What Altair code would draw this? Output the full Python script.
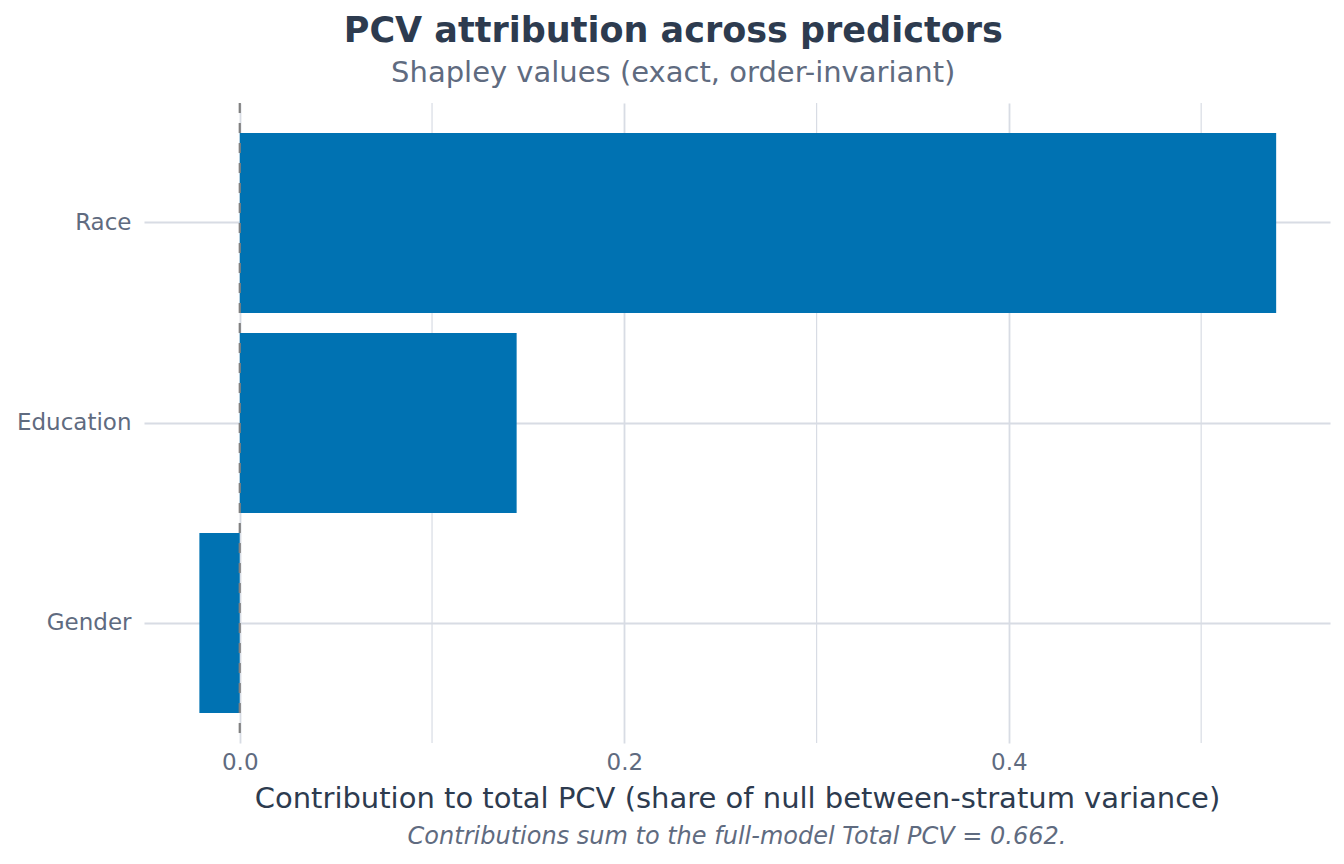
import altair as alt
import pandas as pd

predictors = ["Race", "Education", "Gender"]
shapley = [0.539, 0.144, -0.021]
total_pcv = 0.662

major_ticks = [0.0, 0.2, 0.4]
minor_ticks = [0.1, 0.3, 0.5]

W, H = 1186, 640
BLUE = "#0072B2"
GRID = "#d8dce4"
DARK = "#2d3b4f"
MUTED = "#5f6b80"
FONT = "DejaVu Sans"

df = pd.DataFrame({"predictor": predictors, "value": shapley})
minor_df = pd.DataFrame({"x": minor_ticks})
zero_df = pd.DataFrame({"x": [0.0]})

x_scale = alt.Scale(domain=[-0.0498, 0.567], nice=False, zero=False)
y_scale = alt.Scale(domain=predictors, paddingInner=0.1, paddingOuter=0.15)

minor = alt.Chart(minor_df).mark_rule(color=GRID, strokeWidth=1.2).encode(
    x=alt.X("x:Q", scale=x_scale)
)

bars = alt.Chart(df).mark_bar(color=BLUE).encode(
    x=alt.X(
        "value:Q",
        scale=x_scale,
        title="Contribution to total PCV (share of null between-stratum variance)",
        axis=alt.Axis(
            values=major_ticks, format=".1f", grid=True, gridColor=GRID, gridWidth=1.8,
            domain=False, ticks=False, labelPadding=8, titlePadding=10,
        ),
    ),
    x2=alt.datum(0),
    y=alt.Y(
        "predictor:N",
        scale=y_scale,
        title=None,
        axis=alt.Axis(
            grid=True, gridColor=GRID, gridWidth=1.8, domain=False, ticks=False,
            labelPadding=13,
        ),
    ),
)

zero = alt.Chart(zero_df).mark_rule(
    color="#808080", strokeWidth=2.2, strokeDash=[10, 10]
).encode(x=alt.X("x:Q", scale=x_scale))

caption = alt.Chart(pd.DataFrame({"t": [f"Contributions sum to the full-model Total PCV = {total_pcv}."]})).mark_text(
    font=FONT, fontSize=24, fontStyle="italic", color=MUTED, baseline="middle"
).encode(x=alt.value(W / 2), y=alt.value(H + 94), text="t:N")

chart = alt.layer(minor, bars, zero, caption).properties(
    width=W,
    height=H,
    autosize=alt.AutoSizeParams(type="none"),
    padding={"left": 136, "top": 95, "right": 4, "bottom": 110},
    title=alt.Title(
        "PCV attribution across predictors",
        subtitle="Shapley values (exact, order-invariant)",
        anchor="middle",
        frame="bounds",
        offset=14,
        subtitlePadding=10,
    ),
).configure(font=FONT).configure_view(stroke=None).configure_axis(
    labelFont=FONT, labelFontSize=23, labelColor=MUTED,
    titleFont=FONT, titleFontSize=29, titleColor=DARK, titleFontWeight="normal",
).configure_title(
    font=FONT, fontSize=35, fontWeight="bold", color=DARK,
    subtitleFont=FONT, subtitleFontSize=29, subtitleColor=MUTED,
)

chart.save("out.html", embed_options={"renderer": "svg", "actions": False})
